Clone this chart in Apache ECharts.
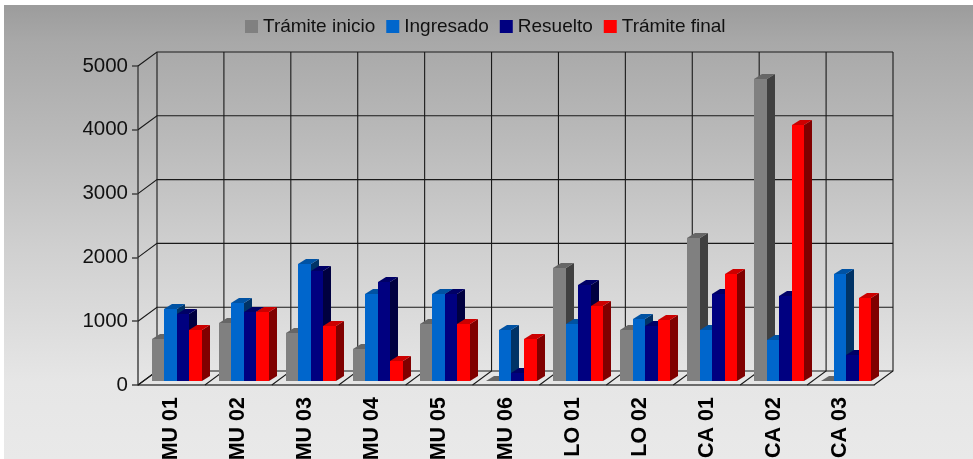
<!DOCTYPE html>
<html>
<head>
<meta charset="utf-8">
<style>html,body{margin:0;padding:0;background:#fff}#c{width:973px;height:459px}</style>
<script src="https://cdn.jsdelivr.net/npm/echarts@6/dist/echarts.min.js"></script>
</head>
<body>
<div id="c"></div>
<script>
const categories = ['MU 01','MU 02','MU 03','MU 04','MU 05','MU 06','LO 01','LO 02','CA 01','CA 02','CA 03'];
const yTicks = [0,1000,2000,3000,4000,5000];
const tramiteInicio = [665,915,760,508,888,5,1777,795,2248,4740,5];
const ingresado = [1135,1230,1840,1370,1370,795,888,978,795,642,1683];
const resuelto = [1045,1080,1720,1552,1370,130,1500,857,1370,1338,414];
const tramiteFinal = [795,1080,857,314,888,665,1170,951,1683,4012,1300];

const FONT = '"Liberation Sans", Arial, sans-serif';
const DEPTH = [19, -14];
const BAR_W = 12.5, BAR_D = [8, -5], BAR_Y = -4, BAR_START = -19.5;
const palette = [
  {name:'Trámite inicio', values:tramiteInicio, front:'#808080', top:'#666666', side:'#404040'},
  {name:'Ingresado', values:ingresado, front:'#0066cc', top:'#0052a3', side:'#003366'},
  {name:'Resuelto', values:resuelto, front:'#000080', top:'#000066', side:'#000040'},
  {name:'Trámite final', values:tramiteFinal, front:'#ff0000', top:'#cc0000', side:'#800000'}
];

function barSeries(p, k) {
  return {
    name: p.name, type: 'custom', coordinateSystem: 'cartesian2d', clip: false, z: 3 + k,
    itemStyle: {color: p.front},
    data: p.values.map((v, i) => [i, v]),
    encode: {x: 0, y: 1},
    renderItem(params, api) {
      const top = api.coord([api.value(0), api.value(1)]);
      const base = api.coord([api.value(0), 0]);
      const x0 = Math.round(top[0] + BAR_START + k * BAR_W);
      const x1 = Math.round(top[0] + BAR_START + (k + 1) * BAR_W);
      const y0 = Math.round(top[1] + BAR_Y);
      const y1 = Math.round(base[1] + BAR_Y);
      const [dx, dy] = BAR_D;
      const poly = (pts, fill) => ({type: 'polygon', shape: {points: pts}, style: {fill}});
      return {type: 'group', children: [
        poly([[x1,y0],[x1+dx,y0+dy],[x1+dx,y1+dy],[x1,y1]], p.side),
        poly([[x0,y0],[x0+dx,y0+dy],[x1+dx,y0+dy],[x1,y0]], p.top),
        poly([[x0,y0],[x1,y0],[x1,y1],[x0,y1]], p.front)
      ]};
    }
  };
}

const LINE = {stroke: '#1a1a1a', lineWidth: 1.1};
const wallH = {
  type: 'custom', coordinateSystem: 'cartesian2d', clip: false, z: 1, silent: true,
  data: yTicks.map(t => [0, t]), encode: {x: 0, y: 1},
  renderItem(params, api) {
    const c = params.coordSys, y = api.coord([0, api.value(1)])[1];
    return {type: 'polyline', shape: {points: [[c.x, y],[c.x + DEPTH[0], y + DEPTH[1]],[c.x + c.width + DEPTH[0], y + DEPTH[1]]]}, style: {fill: 'none', ...LINE}};
  }
};
const wallV = {
  type: 'custom', coordinateSystem: 'cartesian2d', clip: false, z: 1, silent: true,
  data: categories.concat(['end']).map((_, i) => [0, i]), encode: {x: 0},
  renderItem(params, api) {
    const c = params.coordSys, x = c.x + api.value(1) * c.width / categories.length, yb = c.y + c.height;
    return {type: 'polyline', shape: {points: [[x, yb],[x + DEPTH[0], yb + DEPTH[1]],[x + DEPTH[0], c.y + DEPTH[1]]]}, style: {fill: 'none', ...LINE}};
  }
};

const chart = echarts.init(document.getElementById('c'), null, {renderer: 'canvas'});
chart.setOption({
  backgroundColor: '#ffffff',
  animation: false,
  graphic: {elements: [{
    type: 'rect', z: -1, silent: true,
    shape: {x: 4, y: 5, width: 969, height: 454},
    style: {fill: {type: 'linear', x: 0, y: 0, x2: 0, y2: 1, colorStops: [
      {offset: 0, color: '#9c9c9c'},
      {offset: 0.08, color: '#a8a8a8'},
      {offset: 0.32, color: '#bcbcbc'},
      {offset: 0.54, color: '#d0d0d0'},
      {offset: 0.83, color: '#e6e6e6'},
      {offset: 1, color: '#e9e9e9'}
    ]}}
  }]},
  legend: {
    left: 240, top: 12, icon: 'rect', itemWidth: 13, itemHeight: 13, itemGap: 11,
    data: palette.map(p => p.name),
    textStyle: {fontFamily: FONT, fontSize: 19, color: '#111'}
  },
  grid: {left: 138, right: 99, top: 66, bottom: 74, containLabel: false, outerBoundsMode: 'none'},
  xAxis: {
    type: 'category', data: categories, boundaryGap: true,
    axisLine: {lineStyle: {color: '#444', width: 1.5}},
    axisTick: {length: 5, lineStyle: {color: '#444', width: 1.5}, alignWithLabel: false},
    axisLabel: {interval: 0, rotate: 90, margin: 12, fontFamily: FONT, fontWeight: 'bold', fontSize: 21.5, color: '#000'},
    splitLine: {show: false}
  },
  yAxis: {
    type: 'value', min: 0, max: 5000, interval: 1000,
    axisLine: {show: true, lineStyle: {color: '#444', width: 1.5}},
    axisTick: {show: true, length: 6, lineStyle: {color: '#444', width: 1.5}},
    axisLabel: {margin: 10, fontFamily: FONT, fontSize: 20.5, color: '#111', formatter: v => String(v)},
    splitLine: {show: false}
  },
  series: [wallH, wallV].concat(palette.map(barSeries))
});
</script>
</body>
</html>
